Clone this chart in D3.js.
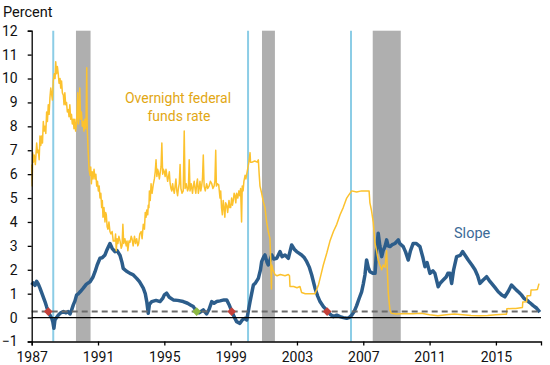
<!DOCTYPE html>
<html>
<head>
<meta charset="utf-8">
<script src="https://cdn.jsdelivr.net/npm/d3@7"></script>
<style>
html,body{margin:0;padding:0;background:#fff;}
svg{display:block;font-family:Roboto,"Noto Sans",sans-serif;}
</style>
</head>
<body>
<svg id="chart" width="550" height="365"></svg>
<script>
// ---- data ----
const xTickLabels = [1987, 1991, 1995, 1999, 2003, 2007, 2011, 2015];
const yTickLabels = [-1, 0, 1, 2, 3, 4, 5, 6, 7, 8, 9, 10, 11, 12];

const recessionStart = [1989.67, 2000.89, 2007.57];
const recessionEnd   = [1990.55, 2001.67, 2009.26];

const markerLines = [1988.3, 2000.05, 2006.26];

const thresholdValue = 0.25;

const redDiamondYears  = [1988.0, 1999.06, 2004.82];
const redDiamondValues = [0.25, 0.25, 0.25];
const greenDiamondYears  = [1996.95];
const greenDiamondValues = [0.25];

const fedYears = [1987.00,1987.03,1987.06,1987.10,1987.15,1987.22,1987.30,1987.35,1987.40,1987.45,1987.50,1987.55,1987.60,1987.65,1987.70,1987.75,1987.80,1987.85,1987.90,1987.95,1988.00,1988.05,1988.10,1988.15,1988.21,1988.25,1988.30,1988.36,1988.41,1988.45,1988.50,1988.55,1988.60,1988.65,1988.71,1988.75,1988.80,1988.85,1988.91,1988.95,1989.00,1989.05,1989.10,1989.15,1989.21,1989.25,1989.30,1989.35,1989.40,1989.45,1989.51,1989.55,1989.60,1989.65,1989.71,1989.78,1989.82,1989.86,1989.90,1989.95,1990.00,1990.05,1990.11,1990.15,1990.20,1990.24,1990.28,1990.32,1990.35,1990.41,1990.46,1990.52,1990.56,1990.60,1990.65,1990.70,1990.76,1990.82,1990.87,1990.92,1990.97,1991.02,1991.07,1991.12,1991.17,1991.22,1991.26,1991.30,1991.36,1991.42,1991.46,1991.50,1991.55,1991.60,1991.66,1991.72,1991.78,1991.85,1991.92,1992.02,1992.06,1992.10,1992.15,1992.20,1992.26,1992.33,1992.40,1992.45,1992.50,1992.55,1992.62,1992.70,1992.75,1992.80,1992.87,1992.93,1993.00,1993.05,1993.12,1993.20,1993.26,1993.33,1993.40,1993.45,1993.52,1993.60,1993.66,1993.73,1993.80,1993.85,1993.90,1993.94,1994.00,1994.03,1994.07,1994.10,1994.15,1994.20,1994.26,1994.33,1994.40,1994.45,1994.50,1994.55,1994.60,1994.64,1994.70,1994.74,1994.80,1994.85,1994.90,1994.94,1995.00,1995.05,1995.10,1995.14,1995.20,1995.24,1995.30,1995.35,1995.40,1995.45,1995.50,1995.54,1995.60,1995.65,1995.70,1995.75,1995.80,1995.85,1995.90,1995.95,1996.00,1996.07,1996.14,1996.20,1996.25,1996.32,1996.40,1996.45,1996.50,1996.55,1996.62,1996.70,1996.75,1996.80,1996.85,1996.90,1996.95,1997.00,1997.05,1997.10,1997.15,1997.20,1997.25,1997.30,1997.35,1997.40,1997.47,1997.55,1997.62,1997.70,1997.78,1997.86,1997.93,1998.00,1998.05,1998.10,1998.14,1998.20,1998.28,1998.36,1998.40,1998.45,1998.50,1998.55,1998.60,1998.65,1998.70,1998.76,1998.82,1998.90,1998.95,1999.00,1999.06,1999.11,1999.16,1999.21,1999.26,1999.31,1999.36,1999.43,1999.50,1999.55,1999.60,1999.66,1999.70,1999.75,1999.80,1999.87,1999.92,1999.97,2000.05,2000.10,2000.17,2000.20,2000.30,2000.45,2000.60,2000.67,2000.72,2000.77,2000.87,2000.97,2001.07,2001.17,2001.27,2001.37,2001.42,2001.46,2001.48,2001.55,2001.67,2001.80,2002.00,2002.28,2002.48,2002.55,2002.58,2002.80,2003.00,2003.18,2003.28,2003.50,2003.80,2004.09,2004.29,2004.45,2004.59,2004.80,2004.99,2005.20,2005.40,2005.60,2005.79,2006.00,2006.10,2006.30,2006.60,2006.90,2007.20,2007.35,2007.40,2007.49,2007.60,2007.71,2007.80,2007.90,2008.00,2008.11,2008.20,2008.31,2008.41,2008.45,2008.51,2008.61,2008.70,2009.00,2009.50,2010.00,2010.50,2011.00,2011.50,2012.00,2012.50,2013.00,2013.50,2014.00,2014.50,2015.00,2015.50,2015.64,2015.66,2016.00,2016.20,2016.40,2016.60,2016.62,2016.85,2016.88,2017.00,2017.09,2017.12,2017.40,2017.50,2017.60];
const fedValues = [6.4,5.5,6.9,6.5,6.8,6.4,7.3,6.9,7.0,6.6,7.6,7.2,7.6,7.3,8.2,7.8,8.0,7.7,8.6,8.2,8.9,8.5,9.2,9.6,9.3,9.1,9.9,10.2,10.0,10.7,10.2,10.5,10.2,9.8,10.0,9.6,9.9,9.4,9.3,8.9,9.4,8.9,9.0,8.6,8.7,8.4,8.9,8.3,8.5,8.1,8.3,7.9,8.3,7.8,8.2,9.4,8.1,8.4,9.6,8.3,8.6,8.0,8.2,7.8,8.3,7.9,8.2,10.45,7.9,6.9,6.2,5.95,6.3,5.6,6.1,5.8,6.2,5.8,6.0,5.5,5.7,5.3,5.5,5.0,5.2,4.6,4.9,4.2,4.6,4.0,4.4,4.3,3.8,3.7,4.0,3.6,3.5,3.6,3.2,3.2,3.5,2.8,3.3,3.1,3.4,3.2,2.9,3.0,3.9,3.1,3.3,3.0,3.2,2.8,3.2,3.15,3.4,3.3,3.0,3.4,3.1,3.3,3.0,3.1,3.5,3.6,3.3,3.9,3.7,4.4,4.2,4.5,4.3,4.7,4.6,5.3,4.9,5.6,5.2,5.55,5.8,6.1,6.6,5.9,6.2,6.1,5.8,6.0,6.3,7.3,6.0,6.2,6.1,5.9,6.2,6.0,5.7,5.85,6.1,5.6,5.4,5.3,5.6,5.4,5.2,5.5,5.8,5.3,5.1,5.4,5.6,6.4,5.4,5.2,5.3,7.8,5.4,5.6,5.3,5.4,6.6,5.3,5.6,5.2,5.5,5.7,5.4,5.2,5.6,5.8,5.2,5.4,5.7,5.3,5.5,5.8,6.8,5.5,5.3,5.6,5.4,5.5,5.7,5.6,5.4,5.5,5.7,7.0,5.5,5.6,5.55,5.0,5.3,4.6,4.3,4.9,4.6,4.2,4.8,4.7,4.4,4.9,4.6,4.6,5.0,4.7,4.9,5.2,5.1,4.8,5.2,5.0,5.3,5.1,5.4,4.0,5.5,5.3,5.7,5.95,5.8,6.0,6.3,6.5,6.9,6.5,6.5,6.55,6.5,6.6,6.0,5.5,5.2,4.85,4.6,4.0,3.6,3.3,2.4,1.2,2.2,2.0,1.8,1.75,1.8,1.75,1.8,1.75,1.3,1.3,1.25,1.3,1.05,1.0,1.0,1.0,1.35,1.8,2.2,2.7,3.2,3.6,3.9,4.3,4.6,5.0,5.1,5.3,5.25,5.3,5.3,5.3,4.8,4.5,4.0,3.1,2.8,2.4,2.2,2.0,2.2,2.1,2.8,2.0,1.0,0.3,0.18,0.15,0.17,0.16,0.18,0.12,0.08,0.12,0.15,0.12,0.09,0.08,0.09,0.12,0.14,0.14,0.37,0.38,0.38,0.40,0.42,0.65,0.66,0.91,0.91,0.92,1.15,1.16,1.17,1.42];

const slopeYears = [1987.00,1987.10,1987.20,1987.30,1987.40,1987.50,1987.65,1987.80,1987.90,1988.00,1988.10,1988.21,1988.28,1988.34,1988.40,1988.50,1988.60,1988.75,1988.91,1989.05,1989.20,1989.31,1989.40,1989.51,1989.61,1989.71,1989.82,1989.95,1990.11,1990.30,1990.52,1990.70,1990.82,1990.95,1991.12,1991.25,1991.42,1991.55,1991.72,1991.85,1992.02,1992.15,1992.33,1992.45,1992.52,1992.70,1992.93,1993.10,1993.33,1993.50,1993.73,1993.85,1993.94,1994.03,1994.10,1994.24,1994.50,1994.74,1994.90,1995.00,1995.14,1995.30,1995.54,1995.80,1996.14,1996.40,1996.60,1996.75,1996.95,1997.10,1997.35,1997.55,1997.70,1997.86,1998.00,1998.16,1998.36,1998.60,1998.76,1998.90,1999.06,1999.20,1999.36,1999.56,1999.70,1999.87,1999.97,2000.10,2000.17,2000.37,2000.50,2000.67,2000.80,2000.87,2001.00,2001.07,2001.20,2001.27,2001.48,2001.60,2001.78,2001.98,2002.10,2002.28,2002.48,2002.68,2002.85,2002.98,2003.28,2003.45,2003.59,2003.75,2003.89,2004.09,2004.25,2004.39,2004.60,2004.79,2004.99,2005.19,2005.40,2005.60,2005.80,2006.00,2006.15,2006.30,2006.45,2006.60,2006.75,2006.90,2007.00,2007.10,2007.20,2007.30,2007.40,2007.60,2007.71,2007.80,2007.90,2008.00,2008.11,2008.20,2008.31,2008.41,2008.50,2008.61,2008.75,2008.91,2009.11,2009.20,2009.41,2009.55,2009.71,2009.85,2010.01,2010.20,2010.42,2010.60,2010.72,2010.85,2011.02,2011.20,2011.32,2011.52,2011.65,2011.82,2012.00,2012.10,2012.23,2012.33,2012.45,2012.63,2012.85,2012.99,2013.15,2013.33,2013.55,2013.74,2013.90,2014.04,2014.20,2014.44,2014.60,2014.74,2014.95,2015.14,2015.35,2015.54,2015.75,2015.94,2016.10,2016.24,2016.40,2016.54,2016.70,2016.85,2017.00,2017.09,2017.25,2017.46,2017.65];
const slopeValues = [1.36,1.45,1.35,1.52,1.4,1.23,0.95,0.67,0.45,0.25,0.10,-0.03,-0.2,-0.45,-0.1,0.0,0.1,0.2,0.25,0.2,0.25,0.15,0.3,0.53,0.7,0.95,1.0,1.1,1.23,1.4,1.5,1.7,1.92,2.2,2.48,2.5,2.62,2.85,3.1,2.9,2.76,2.8,2.6,2.3,2.06,1.95,1.85,1.8,1.64,1.5,1.23,1.0,0.67,0.18,0.55,0.67,0.72,0.67,0.8,0.95,1.02,0.85,0.74,0.72,0.67,0.6,0.52,0.46,0.25,0.2,0.32,0.15,0.35,0.67,0.6,0.67,0.7,0.74,0.74,0.55,0.28,0.05,-0.17,-0.24,-0.1,-0.03,-0.1,0.4,0.67,1.36,1.45,1.64,2.0,2.34,2.55,2.62,2.3,2.2,2.62,2.45,2.48,2.76,2.55,2.62,2.48,3.04,2.85,2.76,2.62,2.5,2.34,2.1,1.78,1.23,0.9,0.67,0.45,0.32,0.15,0.04,0.1,0.04,0.0,-0.03,0.0,0.1,0.25,0.5,0.8,1.08,1.4,1.78,2.41,2.1,1.92,1.85,1.85,2.8,3.53,3.0,2.55,2.8,2.97,3.25,3.0,2.97,3.05,3.1,3.25,3.1,2.97,2.75,2.41,2.8,3.1,3.1,2.97,2.5,2.13,2.3,1.85,1.95,1.85,1.29,1.45,1.57,1.7,1.85,1.85,1.43,2.0,2.55,2.6,2.76,2.6,2.41,2.2,2.0,1.75,1.43,1.55,1.71,1.55,1.43,1.25,1.08,0.95,0.87,1.1,1.36,1.25,1.15,1.05,0.95,0.8,0.74,0.65,0.6,0.5,0.39,0.23];

// ---- chart ----
const svg = d3.select("#chart");
const plotLeft = 31.7, plotRight = 541, plotTop = 30.7, plotBottom = 341.5;

const x = d3.scaleLinear().domain([1987, 2017.72]).range([plotLeft, plotRight]);
const y = d3.scaleLinear().domain([-1, 12]).range([plotBottom, plotTop]);

const recessions = recessionStart.map((s, i) => ({s, e: recessionEnd[i]}));

svg.append("g").selectAll("rect").data(recessions).join("rect")
  .attr("x", d => x(d.s)).attr("width", d => x(d.e) - x(d.s))
  .attr("y", y(12)).attr("height", y(-1) - y(12))
  .attr("fill", "#afafaf");

svg.append("g").selectAll("line").data(markerLines).join("line")
  .attr("x1", d => x(d)).attr("x2", d => x(d))
  .attr("y1", y(12)).attr("y2", y(-1))
  .attr("stroke", "#8ccde6").attr("stroke-width", 2);

const fed = fedYears.map((t, i) => [t, fedValues[i]]);
const slope = slopeYears.map((t, i) => [t, slopeValues[i]]);
const line = d3.line().x(d => x(d[0])).y(d => y(d[1]));

svg.append("path").datum(slope).attr("d", line)
  .attr("fill", "none").attr("stroke", "#2c5d8b").attr("stroke-width", 3.5)
  .attr("stroke-linejoin", "round");

svg.append("path").datum(fed).attr("d", line)
  .attr("fill", "none").attr("stroke", "#fcc22e").attr("stroke-width", 1.5)
  .attr("stroke-linejoin", "round");

// zero line and threshold
svg.append("line").attr("x1", plotLeft).attr("x2", plotRight)
  .attr("y1", y(0)).attr("y2", y(0)).attr("stroke", "#000").attr("stroke-width", 1.3);
svg.append("line").attr("x1", plotLeft).attr("x2", plotRight)
  .attr("y1", y(thresholdValue)).attr("y2", y(thresholdValue))
  .attr("stroke", "#6b6b6b").attr("stroke-width", 2).attr("stroke-dasharray", "6,4");

// diamonds
const diamond = d3.symbol().type(d3.symbolSquare).size(38);
const redD = redDiamondYears.map((t, i) => [t, redDiamondValues[i]]);
const greenD = greenDiamondYears.map((t, i) => [t, greenDiamondValues[i]]);
svg.append("g").selectAll("path").data(redD).join("path")
  .attr("d", diamond)
  .attr("transform", d => `translate(${x(d[0])},${y(d[1])}) rotate(45)`)
  .attr("fill", "#c4403a");
svg.append("g").selectAll("path").data(greenD).join("path")
  .attr("d", diamond)
  .attr("transform", d => `translate(${x(d[0])},${y(d[1])}) rotate(45)`)
  .attr("fill", "#8cb842");

// axes
const xAxis = d3.axisBottom(x).tickValues(xTickLabels).tickFormat(d3.format("d")).tickSizeOuter(0).tickSize(4);
const yAxis = d3.axisLeft(y).tickValues(yTickLabels).tickFormat(d3.format("d")).tickSizeOuter(0).tickSize(4);

const gx = svg.append("g").attr("transform", `translate(0,${plotBottom})`).call(xAxis);
const gy = svg.append("g").attr("transform", `translate(${plotLeft},0)`).call(yAxis);
[gx, gy].forEach(g => {
  g.select(".domain").attr("stroke", "#000").attr("stroke-width", 1.3);
  g.selectAll(".tick line").attr("stroke", "#000").attr("stroke-width", 1.3);
  g.selectAll(".tick text").attr("fill", "#111").attr("font-size", 14).attr("font-family", "Roboto");
});
gx.selectAll(".tick text").attr("dy", "0.95em");
gy.selectAll(".tick text").attr("x", -14);

svg.append("text").attr("x", 3).attr("y", 17).text("Percent")
  .attr("font-size", 14.5).attr("fill", "#111");

const fedLabel = svg.append("text").attr("text-anchor", "middle")
  .attr("font-size", 14).attr("fill", "#e2a714");
fedLabel.append("tspan").attr("x", 178).attr("y", 103).text("Overnight federal");
fedLabel.append("tspan").attr("x", 179).attr("y", 121).text("funds rate");

svg.append("text").attr("x", 454).attr("y", 238).text("Slope")
  .attr("font-size", 14.5).attr("fill", "#3c6a97");
</script>
</body>
</html>
